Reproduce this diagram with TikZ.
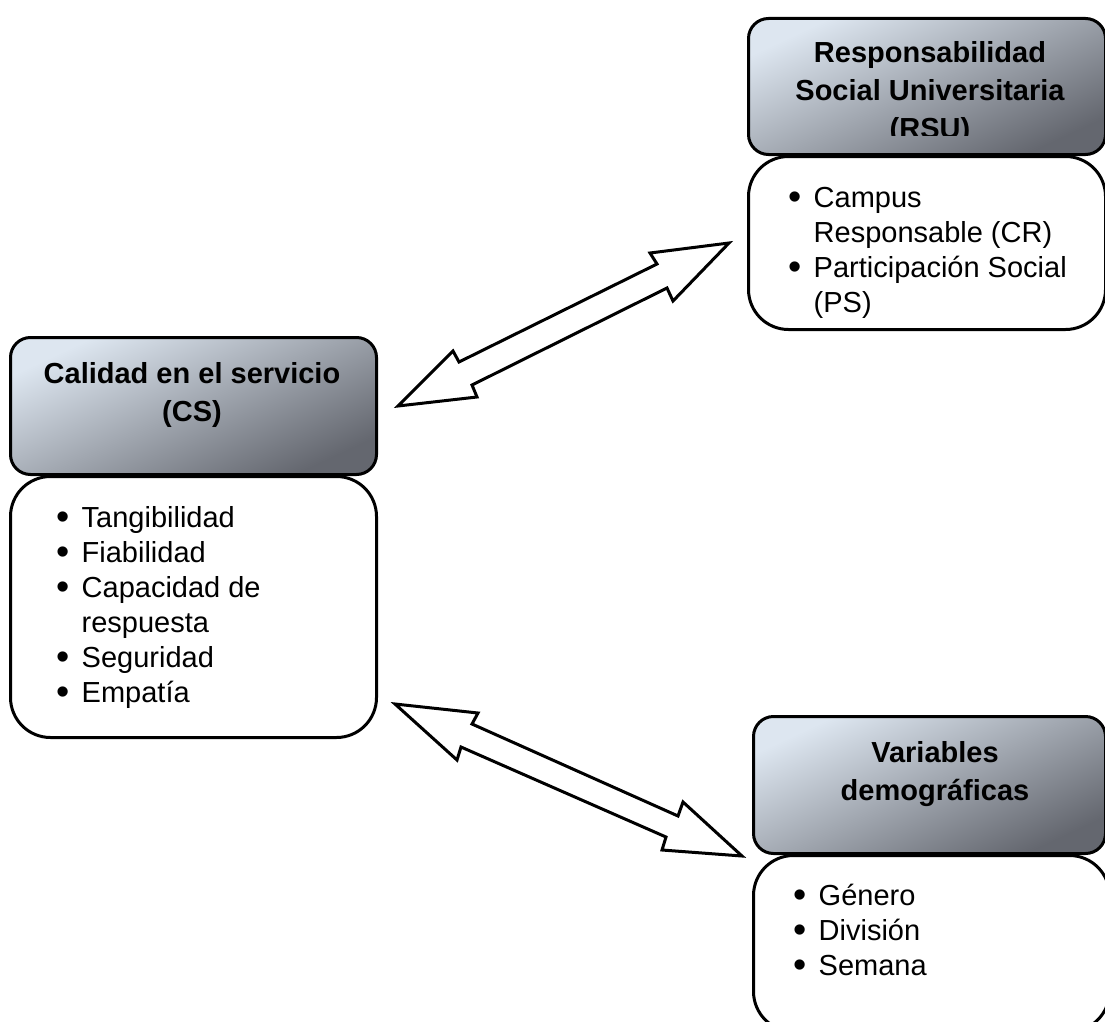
\documentclass[tikz,border=0pt]{standalone}
\usepackage{fontspec}
\setmainfont{Liberation Sans}
\definecolor{hdrlight}{RGB}{221,230,240}
\definecolor{hdrdark}{RGB}{100,103,111}
\begin{document}
\begin{tikzpicture}[x=1pt,y=-1pt,
  hdr/.style={draw=black, line width=3pt, rounded corners=20pt,
    top color=hdrlight, bottom color=hdrdark, shading angle=25,
    inner sep=0pt, anchor=north west},
  bodybox/.style={draw=black, line width=3pt, rounded corners=40pt,
    fill=white, inner sep=0pt, anchor=north west},
  hdrtext/.style={inner sep=0pt, anchor=base,
    font=\bfseries\fontsize{29}{38}\selectfont},
  listtext/.style={inner sep=0pt, anchor=base west,
    font=\fontsize{29}{35}\selectfont},
  blockarrow/.style={draw=black, fill=white, line width=3pt, line join=miter}
]
\useasboundingbox (0,0) rectangle (1105,1022);
\clip (0,0) rectangle (1105,1022);
\newcommand{\bul}{\makebox[25.5pt][l]{\raisebox{-2.5pt}{\scalebox{1.3}{•}}}}

% Calidad en el servicio
\node[hdr, minimum width=366pt, minimum height=137pt] (cshead) at (9,336) {};
\node[bodybox, minimum width=366pt, minimum height=261pt] (csbody) at (9,475) {};
\node[hdrtext] (cstitle) at (192,383)
  {\begin{tabular}[t]{@{}c@{}}Calidad en el servicio\\(CS)\end{tabular}};
\node[listtext] (cslist) at (56,527)
  {\begin{tabular}[t]{@{}l@{}}\bul Tangibilidad\\\bul Fiabilidad\\\bul Capacidad de\\\hspace*{25.5pt}respuesta\\\bul Seguridad\\\bul Empatía\end{tabular}};

% Responsabilidad Social Universitaria
\node[hdr, minimum width=357pt, minimum height=136pt] (rsuhead) at (747,17) {};
\node[bodybox, minimum width=357pt, minimum height=173pt] (rsubody) at (747,155) {};
\begin{scope}
  \clip (747,17) rectangle (1105,136);
  \node[hdrtext] (rsutitle) at (930,63)
    {\begin{tabular}[t]{@{}c@{}}Responsabilidad\\Social Universitaria\\(RSU)\end{tabular}};
\end{scope}
\node[listtext] (rsulist) at (788,207)
  {\begin{tabular}[t]{@{}l@{}}\bul Campus\\\hspace*{25.5pt}Responsable (CR)\\\bul Participación Social\\\hspace*{25.5pt}(PS)\end{tabular}};

% Variables demograficas
\node[hdr, minimum width=352pt, minimum height=137pt] (vdhead) at (752,715) {};
\node[bodybox, minimum width=356pt, minimum height=176pt] (vdbody) at (752,854) {};
\node[hdrtext] (vdtitle) at (935,762)
  {\begin{tabular}[t]{@{}c@{}}Variables\\demográficas\end{tabular}};
\node[listtext] (vdlist) at (793,905)
  {\begin{tabular}[t]{@{}l@{}}\bul Género\\\bul División\\\bul Semana\end{tabular}};

% block arrows
\coordinate (aUL) at (398,406);
\coordinate (aUR) at (729,243);
\draw[blockarrow] (aUL) -- (453,351) -- (459,362) -- (657,264) -- (650,253)
  -- (aUR) -- (673,301) -- (667,288) -- (472,385) -- (477,397) -- cycle;

\coordinate (aLL) at (395,704);
\coordinate (aLR) at (742,856);
\draw[blockarrow] (aLL) -- (478,713) -- (472,724) -- (678,816) -- (683,802)
  -- (aLR) -- (662,850) -- (666,837) -- (461,747) -- (457,760) -- cycle;
\end{tikzpicture}
\end{document}
